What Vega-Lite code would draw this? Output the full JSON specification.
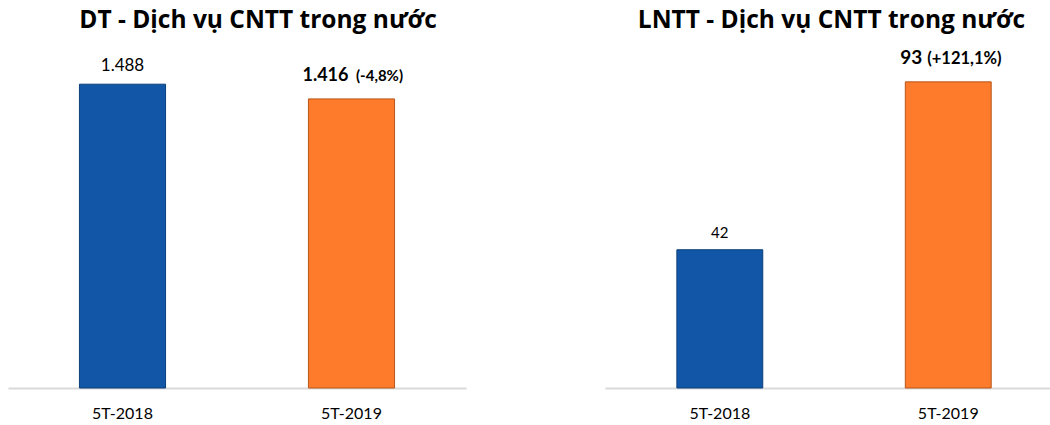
{
  "$schema": "https://vega.github.io/schema/vega-lite/v6.json",
  "background": "white",
  "padding": {"left": 8, "right": 0, "top": 7, "bottom": 0},
  "spacing": 139,
  "config": {
    "view": {"stroke": null},
    "font": "Lato",
    "title": {"font": "Open Sans", "fontSize": 24.5, "fontWeight": "bold", "color": "#000000", "offset": 12, "anchor": "middle"},
    "axis": {"labelFont": "Lato"}
  },
  "datasets": {
    "dt": [
      {"period": "5T-2018", "value": 1488, "text": "1.488", "change": ""},
      {"period": "5T-2019", "value": 1416, "text": "1.416", "change": "(-4,8%)"}
    ],
    "lntt": [
      {"period": "5T-2018", "value": 42, "text": "42", "change": ""},
      {"period": "5T-2019", "value": 93, "text": "93", "change": "(+121,1%)"}
    ]
  },
  "hconcat": [
    {
      "width": 458,
      "height": 343,
      "title": {"text": "DT - Dịch vụ CNTT trong nước", "dx": 21},
      "data": {"name": "dt"},
      "encoding": {
        "x": {
          "field": "period", "type": "nominal", "sort": null,
          "scale": {"paddingInner": 0.624, "paddingOuter": 0.312},
          "axis": {"title": null, "labelAngle": 0, "ticks": false, "grid": false, "domainColor": "#d9d9d9", "domainWidth": 2, "labelFontSize": 16, "labelColor": "#000000", "labelPadding": 17}
        },
        "y": {
          "field": "value", "type": "quantitative",
          "scale": {"domain": [0, 1680], "nice": false, "zero": true},
          "axis": null
        }
      },
      "layer": [
        {
          "mark": {"type": "bar", "strokeWidth": 1},
          "encoding": {
            "color": {"field": "period", "type": "nominal", "scale": {"domain": ["5T-2018", "5T-2019"], "range": ["#1257a7", "#fd7b2b"]}, "legend": null},
            "stroke": {"field": "period", "type": "nominal", "scale": {"domain": ["5T-2018", "5T-2019"], "range": ["#0c3f7a", "#b8561a"]}, "legend": null}
          }
        },
        {
          "transform": [{"filter": "datum.period === '5T-2018'"}],
          "mark": {"type": "text", "fontSize": 17, "baseline": "alphabetic", "dy": -13, "color": "#000000"},
          "encoding": {"text": {"field": "text"}}
        },
        {
          "transform": [{"filter": "datum.period === '5T-2019'"}],
          "mark": {"type": "text", "fontSize": 18, "fontWeight": "bold", "align": "right", "baseline": "alphabetic", "dy": -18, "dx": -3, "color": "#000000"},
          "encoding": {"text": {"field": "text"}}
        },
        {
          "transform": [{"filter": "datum.period === '5T-2019'"}],
          "mark": {"type": "text", "fontSize": 15, "fontWeight": "bold", "align": "left", "baseline": "alphabetic", "dy": -18, "dx": 4.5, "color": "#000000"},
          "encoding": {"text": {"field": "change"}}
        }
      ]
    },
    {
      "width": 445,
      "height": 343,
      "title": {"text": "LNTT - Dịch vụ CNTT trong nước", "dx": 4},
      "data": {"name": "lntt"},
      "encoding": {
        "x": {
          "field": "period", "type": "nominal", "sort": null,
          "scale": {"paddingInner": 0.624, "paddingOuter": 0.286, "align": 0.55},
          "axis": {"title": null, "labelAngle": 0, "ticks": false, "grid": false, "domainColor": "#d9d9d9", "domainWidth": 2, "labelFontSize": 16, "labelColor": "#000000", "labelPadding": 17}
        },
        "y": {
          "field": "value", "type": "quantitative",
          "scale": {"domain": [0, 104.2], "nice": false, "zero": true},
          "axis": null
        }
      },
      "layer": [
        {
          "mark": {"type": "bar", "strokeWidth": 1},
          "encoding": {
            "color": {"field": "period", "type": "nominal", "scale": {"domain": ["5T-2018", "5T-2019"], "range": ["#1257a7", "#fd7b2b"]}, "legend": null},
            "stroke": {"field": "period", "type": "nominal", "scale": {"domain": ["5T-2018", "5T-2019"], "range": ["#0c3f7a", "#b8561a"]}, "legend": null}
          }
        },
        {
          "transform": [{"filter": "datum.period === '5T-2018'"}],
          "mark": {"type": "text", "fontSize": 15, "baseline": "alphabetic", "dy": -12, "color": "#000000"},
          "encoding": {"text": {"field": "text"}}
        },
        {
          "transform": [{"filter": "datum.period === '5T-2019'"}],
          "mark": {"type": "text", "fontSize": 19, "fontWeight": "bold", "align": "right", "baseline": "alphabetic", "dy": -18, "dx": -26, "color": "#000000"},
          "encoding": {"text": {"field": "text"}}
        },
        {
          "transform": [{"filter": "datum.period === '5T-2019'"}],
          "mark": {"type": "text", "fontSize": 16.5, "fontWeight": "bold", "align": "left", "baseline": "alphabetic", "dy": -18, "dx": -21, "color": "#000000"},
          "encoding": {"text": {"field": "change"}}
        }
      ]
    }
  ]
}
